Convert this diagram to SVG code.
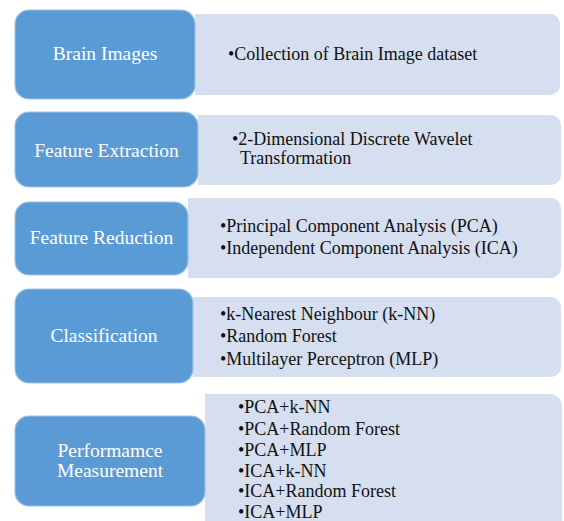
<svg xmlns="http://www.w3.org/2000/svg" width="564" height="521" viewBox="0 0 564 521">
<style>
.bg{fill:#ffffff}
.blue{fill:#5B9BD5;stroke:#9EC2E8;stroke-width:1.2}
.light{fill:#D5DFEF}
.lbl{font-family:"Liberation Serif","Times New Roman",serif;font-size:19.5px;fill:#ffffff;text-anchor:middle}
.itm{font-family:"Liberation Serif","Times New Roman",serif;font-size:18px;fill:#111111}
</style>
<rect class="bg" x="0" y="0" width="564" height="521"/>
<g id="brain-images">
<path class="light" d="M195 14 H550 A10 10 0 0 1 560 24 V85 A10 10 0 0 1 550 95 H195 Z"/>
<rect class="blue" x="15" y="10" width="180" height="89" rx="14"/>
<text class="lbl" x="105" y="60">Brain Images</text>
<text class="itm" x="228" y="60">•Collection of Brain Image dataset</text>
</g>
<g id="feature-extraction">
<path class="light" d="M198 115 H551 A10 10 0 0 1 561 125 V175 A10 10 0 0 1 551 185 H198 Z"/>
<rect class="blue" x="15" y="112" width="183" height="75" rx="14"/>
<text class="lbl" x="106.5" y="157">Feature Extraction</text>
<text class="itm" x="232" y="145">•2-Dimensional Discrete Wavelet</text>
<text class="itm" x="240" y="164">Transformation</text>
</g>
<g id="feature-reduction">
<path class="light" d="M188 198 H551 A10 10 0 0 1 561 208 V268 A10 10 0 0 1 551 278 H188 Z"/>
<rect class="blue" x="15" y="202" width="173" height="73" rx="14"/>
<text class="lbl" x="101.5" y="244">Feature Reduction</text>
<text class="itm" x="220" y="232">•Principal Component Analysis (PCA)</text>
<text class="itm" x="220" y="254">•Independent Component Analysis (ICA)</text>
</g>
<g id="classification">
<path class="light" d="M193 297 H551 A10 10 0 0 1 561 307 V367 A10 10 0 0 1 551 377 H193 Z"/>
<rect class="blue" x="15" y="289" width="178" height="94" rx="14"/>
<text class="lbl" x="104" y="342">Classification</text>
<text class="itm" x="220" y="320">•k-Nearest Neighbour (k-NN)</text>
<text class="itm" x="220" y="342">•Random Forest</text>
<text class="itm" x="220" y="365">•Multilayer Perceptron (MLP)</text>
</g>
<g id="performance-measurement">
<path class="light" d="M205 394 H550 A12 12 0 0 1 562 406 V540 H205 Z"/>
<rect class="blue" x="15" y="416" width="190" height="90" rx="14"/>
<text class="lbl" x="110" y="457">Performamce</text>
<text class="lbl" x="110" y="477">Measurement</text>
<text class="itm" x="238" y="413">•PCA+k-NN</text>
<text class="itm" x="238" y="435">•PCA+Random Forest</text>
<text class="itm" x="238" y="456">•PCA+MLP</text>
<text class="itm" x="238" y="477">•ICA+k-NN</text>
<text class="itm" x="238" y="497">•ICA+Random Forest</text>
<text class="itm" x="238" y="518">•ICA+MLP</text>
</g>
</svg>
